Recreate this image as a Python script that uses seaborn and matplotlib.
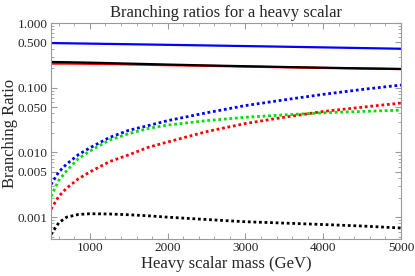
import numpy as np
import pandas as pd
import matplotlib
matplotlib.use("Agg")
import matplotlib.pyplot as plt
import matplotlib.ticker as mticker
import seaborn as sns

# heavy scalar mass (GeV)
mass = [500, 600, 700, 850, 1000, 1250, 1500, 1750, 2000, 2500, 3000, 3500, 4000, 4500, 5000]

# solid curves
br_blue_solid = [0.49, 0.488, 0.486, 0.483, 0.48, 0.475, 0.47, 0.465, 0.46, 0.45, 0.44, 0.43, 0.42, 0.41, 0.40]
br_black_solid = [0.25, 0.249, 0.248, 0.246, 0.244, 0.240, 0.236, 0.232, 0.228, 0.221, 0.215, 0.209, 0.204, 0.199, 0.195]
br_red_solid = [0.236, 0.236, 0.236, 0.235, 0.234, 0.232, 0.229, 0.226, 0.223, 0.218, 0.212, 0.207, 0.202, 0.198, 0.194]

# dotted curves
br_blue_dot = [0.0032, 0.0050, 0.0066, 0.0092, 0.0118, 0.017, 0.022, 0.026, 0.031, 0.041, 0.053, 0.065, 0.079, 0.094, 0.110]
br_green_dot = [0.0021, 0.0037, 0.0052, 0.0080, 0.0105, 0.0155, 0.0195, 0.0235, 0.0265, 0.031, 0.035, 0.038, 0.041, 0.043, 0.045]
br_red_dot = [0.00133, 0.0021, 0.0028, 0.0039, 0.0050, 0.0072, 0.0092, 0.012, 0.0145, 0.021, 0.028, 0.035, 0.043, 0.050, 0.058]
br_black_dot = [0.00054, 0.00082, 0.00100, 0.00110, 0.00113, 0.00112, 0.00109, 0.00105, 0.00100, 0.00092, 0.00085, 0.00081, 0.00077, 0.00073, 0.00068]

y_ticks = [0.001, 0.005, 0.010, 0.050, 0.100, 0.500, 1.000]
x_ticks = [1000, 2000, 3000, 4000, 5000]

sns.set_style("ticks")
plt.rcParams['font.family'] = ['Liberation Serif', 'DejaVu Serif']

fig = plt.figure(figsize=(4.15, 2.76), dpi=100)
ax = fig.add_axes([51/415, 1 - 239/276, 350/415, 216/276])

dot = (0, (1, 1))
curves = [
    (br_red_solid, 'red', '-'),
    (br_black_solid, 'black', '-'),
    (br_blue_solid, 'blue', '-'),
    (br_black_dot, 'black', dot),
    (br_red_dot, 'red', dot),
    (br_green_dot, '#00e000', dot),
    (br_blue_dot, 'blue', dot),
]
for vals, col, ls in curves:
    sns.lineplot(x=mass, y=vals, ax=ax, color=col, linestyle=ls,
                 linewidth=1.6 if ls == '-' else 2.0)

ax.set_yscale('log')
ax.set_xlim(500, 5000)
ax.set_ylim(0.00046, 1.0)
ax.set_yticks(y_ticks)
ax.yaxis.set_major_formatter(mticker.FixedFormatter(['%.3f' % v for v in y_ticks]))
ax.yaxis.set_minor_locator(mticker.LogLocator(base=10, subs=np.arange(2, 10)))
ax.yaxis.set_minor_formatter(mticker.NullFormatter())
ax.set_xticks(x_ticks)
ax.xaxis.set_minor_locator(mticker.MultipleLocator(200))

for s in ax.spines.values():
    s.set_color('#9a9a9a')
    s.set_linewidth(0.8)
ax.tick_params(which='both', direction='in', top=True, right=True, color='#9a9a9a',
               labelsize=9.5, pad=2.5)
ax.tick_params(which='major', length=4)
ax.tick_params(which='minor', length=2)

ax.set_title('Branching ratios for a heavy scalar', fontsize=12, pad=4)
ax.set_xlabel('Heavy scalar mass (GeV)', fontsize=12, labelpad=1)
ax.set_ylabel('Branching Ratio', fontsize=12)
ax.yaxis.set_label_coords(-0.094, 0.49)

fig.savefig('out.png', dpi=100)
